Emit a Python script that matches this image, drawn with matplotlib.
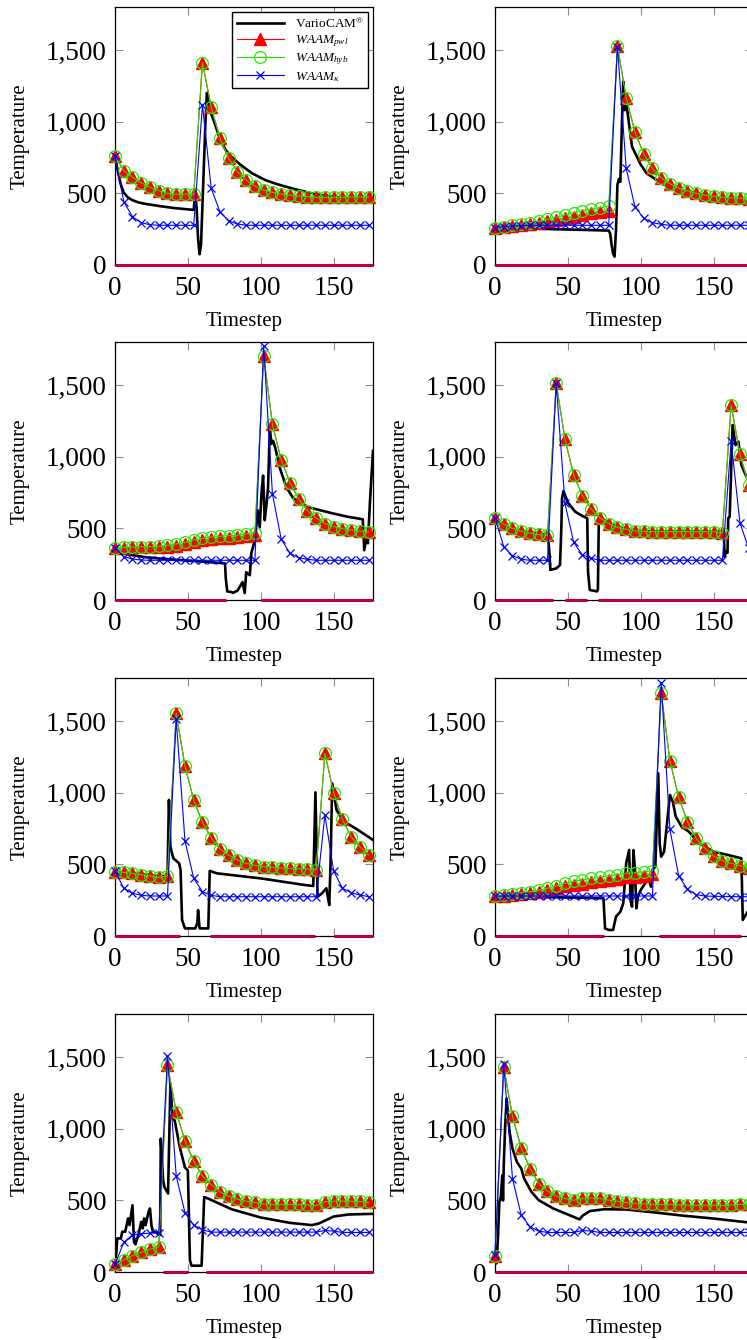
import matplotlib
matplotlib.use("Agg")
import matplotlib.pyplot as plt
from matplotlib.ticker import FuncFormatter

plt.rcParams['font.family'] = ['Liberation Serif', 'DejaVu Serif']
plt.rcParams['mathtext.fontset'] = 'custom'
plt.rcParams['mathtext.rm'] = 'Liberation Serif'
plt.rcParams['mathtext.it'] = 'Liberation Serif:italic'

# sampled every 6 timesteps
steps = list(range(0, 175, 6))

waam_hyb = [
    [760, 658, 612, 575, 542, 519, 500, 495, 495, 493, 1412, 1100, 884, 744, 651,
     593, 551, 523, 507, 495, 488, 481, 477, 472, 472, 472, 472, 474, 474, 475],
    [260, 267, 277, 286, 295, 305, 319, 333, 349, 365, 379, 391, 400, 412, 1530,
     1168, 928, 775, 674, 609, 567, 537, 516, 500, 488, 479, 472, 470, 467, 463],
    [360, 367, 370, 372, 372, 374, 381, 391, 402, 419, 430, 440, 444, 449, 453,
     460, 467, 1705, 1226, 979, 819, 705, 623, 572, 533, 512, 498, 488, 481, 474],
    [574, 528, 500, 481, 467, 458, 451, 1512, 1121, 872, 726, 635, 574, 533, 507,
     493, 484, 479, 477, 477, 477, 477, 477, 476, 476, 476, 470, 1361, 1019, 805],
    [449, 444, 437, 428, 419, 409, 419, 1554, 1186, 949, 793, 686, 609, 563, 530,
     507, 493, 484, 479, 474, 472, 470, 468, 463, 1275, 1000, 814, 693, 623, 565],
    [279, 284, 293, 302, 309, 319, 333, 349, 368, 381, 391, 402, 414, 419, 428,
     437, 442, 447, 456, 1698, 1223, 968, 798, 681, 612, 558, 526, 507, 491, 477],
    [53, 84, 114, 137, 158, 176, 1445, 1116, 916, 773, 670, 610, 559, 529, 508,
     494, 485, 476, 471, 471, 471, 471, 469, 464, 490, 494, 494, 494, 492, 485],
    [114, 1429, 1086, 865, 722, 617, 564, 531, 513, 501, 513, 517, 513, 501, 494,
     485, 480, 476, 473, 471, 471, 469, 466, 464, 466, 466, 464, 469, 471, 473],
]

waam_pwl = [
    [760, 658, 612, 575, 542, 519, 500, 495, 495, 493, 1412, 1100, 884, 744, 651,
     593, 551, 523, 507, 495, 488, 481, 477, 472, 472, 472, 472, 474, 474, 475],
    [260, 265, 272, 279, 286, 294, 304, 314, 326, 338, 350, 360, 368, 376, 1530,
     1168, 928, 775, 674, 609, 567, 537, 516, 500, 488, 479, 472, 470, 467, 463],
    [360, 365, 367, 368, 368, 368, 372, 380, 390, 405, 416, 425, 430, 435, 440,
     447, 455, 1705, 1226, 979, 819, 705, 623, 572, 533, 512, 498, 488, 481, 474],
    [574, 528, 500, 481, 467, 458, 451, 1512, 1121, 872, 726, 635, 574, 533, 507,
     493, 484, 479, 477, 477, 477, 477, 477, 476, 476, 476, 470, 1361, 1019, 805],
    [449, 444, 437, 428, 419, 409, 419, 1554, 1186, 949, 793, 686, 609, 563, 530,
     507, 493, 484, 479, 474, 472, 470, 468, 463, 1275, 1000, 814, 693, 623, 565],
    [279, 282, 289, 296, 301, 308, 318, 332, 348, 358, 366, 376, 386, 392, 400,
     410, 415, 420, 432, 1698, 1223, 968, 798, 681, 612, 558, 526, 507, 491, 477],
    [53, 84, 114, 137, 158, 176, 1445, 1116, 916, 773, 670, 610, 559, 529, 508,
     494, 485, 476, 471, 471, 471, 471, 469, 464, 490, 494, 494, 494, 492, 485],
    [114, 1429, 1086, 865, 722, 617, 564, 531, 513, 501, 513, 517, 513, 501, 494,
     485, 480, 476, 473, 471, 471, 469, 466, 464, 466, 466, 464, 469, 471, 473],
]

waam_kappa = [
    [760, 442, 337, 295, 281, 277, 277, 277, 277, 277, 1116, 535, 372, 307, 286,
     277, 277, 277, 277, 277, 277, 277, 277, 277, 277, 277, 277, 277, 277, 277],
    [260, 268, 272, 274, 276, 277, 277, 277, 277, 277, 277, 277, 277, 277, 1523,
     674, 407, 326, 295, 284, 277, 277, 277, 277, 277, 277, 277, 277, 277, 277],
    [365, 302, 286, 279, 277, 277, 277, 277, 277, 277, 277, 277, 277, 277, 277,
     277, 277, 1772, 740, 426, 326, 295, 284, 277, 277, 277, 277, 277, 277, 277],
    [574, 372, 309, 284, 277, 277, 277, 1512, 674, 402, 314, 291, 277, 277, 277,
     277, 277, 277, 277, 277, 277, 277, 277, 277, 277, 277, 277, 1110, 540, 360],
    [454, 333, 298, 284, 279, 279, 279, 1512, 665, 402, 309, 284, 274, 274, 274,
     274, 274, 274, 274, 274, 274, 274, 274, 274, 844, 454, 333, 302, 286, 274],
    [279, 279, 279, 279, 279, 279, 279, 279, 279, 279, 279, 279, 279, 279, 279,
     279, 279, 279, 279, 1768, 744, 421, 326, 288, 279, 277, 276, 275, 274, 274],
    [53, 206, 258, 267, 271, 274, 1506, 670, 415, 327, 295, 278, 278, 278, 278,
     278, 278, 278, 278, 278, 278, 278, 278, 278, 290, 285, 276, 276, 276, 276],
    [118, 1452, 652, 397, 316, 285, 276, 276, 276, 276, 290, 285, 276, 276, 276,
     276, 276, 276, 276, 276, 276, 276, 276, 276, 276, 276, 276, 276, 276, 276],
]

# VarioCAM camera readings (timestep, temperature)
cam_t = [
    [0, 2, 4, 6, 9, 12, 16, 20, 30, 40, 50, 54, 55, 56, 57, 58, 59, 60, 61, 62, 63,
     64, 65, 68, 72, 76, 80, 86, 94, 103, 110, 117, 125, 137, 149, 160, 177],
    [0, 10, 20, 40, 60, 78, 79, 80, 81, 82, 83, 84, 85, 86, 87, 88, 89, 90, 91, 92,
     94, 100, 104, 115, 126, 149, 172, 177],
    [0, 3, 6, 10, 20, 30, 40, 50, 60, 70, 75.5, 76, 77, 80, 81, 84, 85.5, 87.5, 89,
     90, 92.5, 93.5, 96, 98, 99.3, 100.5, 101.6, 102.7, 104, 105, 106.2, 107.3,
     108.4, 110, 113, 117.6, 122, 126.7, 135.8, 149.5, 160, 170, 171, 172.4, 173.5,
     175, 177],
    [0, 3, 6, 12, 20, 30, 36.4, 37.5, 38, 42, 44.6, 45.5, 46, 47, 50, 55, 60, 63.3,
     63.8, 65, 70, 70.6, 71.2, 72, 78, 84, 90, 100, 120, 140, 157, 157.5, 158.5,
     159.5, 160, 161, 162, 163, 165, 167, 169, 172, 175],
    [0, 10, 20, 30, 36, 37, 38, 40, 44, 45, 46, 48, 55, 56.5, 57, 58, 64, 65, 70,
     100, 130, 136, 137.5, 139, 142, 145, 146, 147, 148, 149, 152, 157, 165, 177],
    [0, 20, 40, 60, 74.4, 75.5, 78, 81, 83, 86, 88, 90, 92, 93, 94, 95, 96, 97, 98,
     100, 103, 105, 107, 108, 110, 112, 113, 114, 116, 118, 120, 122, 124, 128, 133,
     140, 150, 160, 169, 170, 172, 174],
    [0, 1, 1.5, 4, 5, 7, 8, 9, 10, 12, 13, 14, 16, 18, 19, 20, 21, 23, 24, 25, 26,
     28, 31, 31.4, 33, 34, 36.4, 38, 39.5, 41, 44.5, 48, 50, 51.4, 52.5, 59.4, 61.2,
     64.4, 80, 100, 120, 135, 140, 150, 160, 177],
    [0, 1, 2, 3, 4, 5, 5.5, 6, 7, 8, 9, 10, 12, 15, 18, 20, 25, 30, 40, 50, 58, 60,
     65, 75, 90, 110, 130, 150, 170, 177],
]
cam_v = [
    [760, 650, 560, 505, 470, 452, 437, 428, 412, 398, 388, 385, 500, 400, 180, 75,
     140, 420, 700, 980, 1200, 1180, 1080, 1000, 880, 800, 755, 700, 640, 593, 568,
     547, 525, 495, 477, 465, 450],
    [265, 260, 256, 250, 245, 240, 220, 140, 80, 58, 240, 560, 600, 580, 960, 1280,
     1080, 1130, 1060, 980, 826, 700, 640, 565, 523, 477, 426, 420],
    [360, 340, 328, 316, 300, 290, 282, 275, 268, 260, 255, 150, 60, 55, 50, 65, 90,
     125, 49, 194, 173, 326, 417, 625, 507, 743, 868, 556, 674, 785, 1201, 1090,
     1111, 1060, 924, 785, 715, 674, 639, 604, 580, 563, 347, 437, 396, 700, 1040],
    [574, 545, 520, 495, 478, 463, 452, 300, 210, 220, 244, 500, 710, 760, 680, 616,
     586, 570, 200, 70, 60, 75, 547, 574, 540, 510, 493, 480, 478, 477, 477, 300,
     340, 330, 570, 581, 900, 1221, 1081, 1105, 942, 872, 820],
    [449, 440, 430, 418, 415, 949, 623, 542, 507, 460, 112, 53, 53, 90, 181, 53, 53,
     454, 437, 402, 356, 349, 1002, 274, 298, 333, 274, 216, 553, 1065, 879, 798,
     751, 670],
    [274, 272, 270, 267, 263, 53, 42, 42, 135, 170, 228, 507, 600, 251, 205, 600,
     460, 193, 274, 321, 368, 414, 344, 460, 484, 1135, 646, 553, 588, 786, 984, 937,
     833, 763, 728, 647, 588, 565, 542, 112, 147, 181],
    [53, 141, 234, 234, 281, 281, 327, 374, 327, 466, 211, 193, 258, 350, 304, 374,
     327, 420, 443, 327, 281, 276, 258, 930, 640, 590, 548, 1311, 1076, 1055, 868,
     729, 708, 83, 44, 44, 523, 510, 438, 380, 343, 327, 339, 387, 401, 406],
    [114, 60, 234, 490, 524, 675, 499, 745, 1023, 1209, 1093, 977, 861, 768, 722,
     652, 559, 501, 443, 401, 367, 392, 425, 438, 436, 415, 392, 373, 350, 343],
]

# timestep ranges drawn along the zero line
valid_spans = [
    [(0, 177)],
    [(0, 177)],
    [(0, 76), (100.5, 177)],
    [(0, 40), (48, 63), (71, 177)],
    [(0, 44.5), (65, 137), (150, 177)],
    [(0, 74.5), (112.5, 169)],
    [(33, 50), (62.5, 177)],
    [(0, 177)],
]

W, H = 747, 1340
fig = plt.figure(figsize=(W / 100, H / 100), dpi=100)

col_left = [115, 495]
row_bottom = [265, 600, 936, 1272]
ax_w, ax_h = 258, 258

thousands = FuncFormatter(lambda v, pos: f"{v:,.0f}")

for i in range(8):
    r, c = divmod(i, 2)
    ax = fig.add_axes([col_left[c] / W, 1 - row_bottom[r] / H, ax_w / W, ax_h / H])

    ax.plot(cam_t[i], cam_v[i], color='black', lw=1.9, label=r'VarioCAM$^{\circledR}$', zorder=2)
    ax.plot(steps, waam_pwl[i], color='red', lw=0.8, marker='^', ms=8,
            mfc='red', mec='red', label=r'$WAAM_{pwl}$', zorder=3, clip_on=False)
    ax.plot(steps, waam_hyb[i], color='#22dd00', lw=0.8, marker='o', ms=8.5,
            mfc='none', mec='#22ee00', mew=0.9, label=r'$WAAM_{hyb}$', zorder=4,
            clip_on=False)
    ax.plot(steps, waam_kappa[i], color='blue', lw=0.8, marker='x', ms=5.5,
            mew=0.9, label=r'$WAAM_{\kappa}$', zorder=5, clip_on=False)
    for a, b in valid_spans[i]:
        ax.plot([a, b], [0, 0], color='#bf0040', lw=2.2, solid_capstyle='butt',
                clip_on=False, zorder=6)

    ax.set_xlim(0, 177)
    ax.set_ylim(0, 1800)
    ax.set_xticks([0, 50, 100, 150])
    ax.set_yticks([0, 500, 1000, 1500])
    ax.yaxis.set_major_formatter(thousands)
    ax.tick_params(direction='in', top=True, right=True, length=6, width=0.8,
                   color='#8c8c8c', labelsize=19.5)
    ax.tick_params(axis='x', pad=8)
    ax.tick_params(axis='y', pad=6)
    for s in ax.spines.values():
        s.set_linewidth(0.9)
    ax.set_xlabel('Timestep', fontsize=15, labelpad=8)
    ax.set_ylabel('Temperature', fontsize=15, labelpad=12)

    if i == 0:
        ax.legend(loc='upper right', fontsize=9.5, frameon=True, fancybox=False,
                  edgecolor='black', framealpha=1, borderaxespad=0.35,
                  handlelength=3.6, labelspacing=0.2, borderpad=0.35)

fig.savefig('out.png', dpi=100)
